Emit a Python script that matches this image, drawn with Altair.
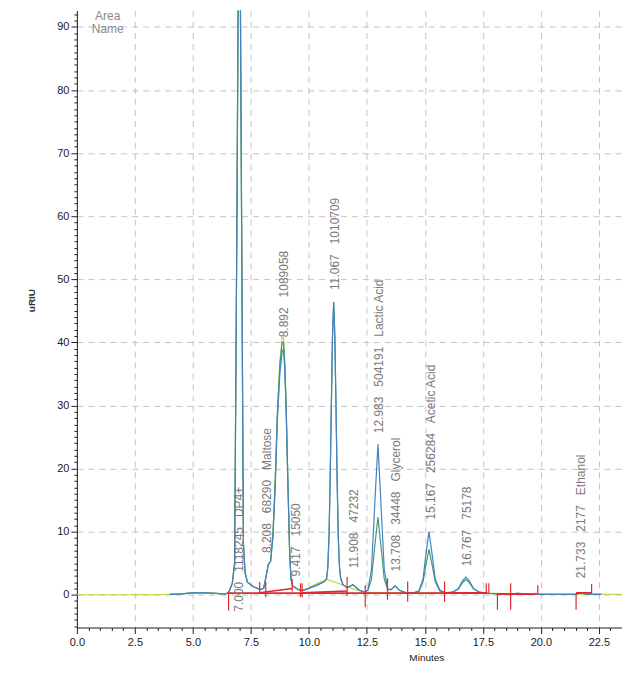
import altair as alt
import pandas as pd

# ---- chromatogram traces (minutes, uRIU) ----
t_trace = [4.0, 4.5, 5.0, 5.5, 6.0, 6.4, 6.55, 6.7, 6.8, 6.9, 6.96, 7.04, 7.1, 7.18, 7.25, 7.35,
           7.6, 7.9, 8.05, 8.15, 8.25, 8.35, 8.45, 8.55, 8.64, 8.75, 8.85, 8.91, 8.97, 9.03, 9.1,
           9.17, 9.23, 9.3, 9.42, 9.55, 9.75, 10.0, 10.4, 10.67, 10.77, 10.82, 10.87, 10.92, 10.97,
           11.02, 11.07, 11.12, 11.17, 11.22, 11.27, 11.32, 11.37, 11.47, 11.65, 11.9, 12.15, 12.4,
           12.55, 12.7, 12.85, 12.98, 13.1, 13.25, 13.4, 13.55, 13.72, 13.9, 14.2, 14.5, 14.75,
           14.92, 15.05, 15.18, 15.31, 15.45, 15.65, 15.9, 16.2, 16.45, 16.62, 16.77, 16.92, 17.1,
           17.35, 17.7, 18.5, 19.0, 19.5, 20.5, 21.5, 21.75, 22.0, 22.6]
v_blue = [0.05, 0.15, 0.3, 0.3, 0.2, 0.1, 0.4, 1.8, 5, 60, 100, 100, 60, 8, 3.5, 2,
          1.3, 0.8, 1.0, 2.8, 4.8, 5.3, 9, 17, 27.5, 35, 38.5, 39, 35, 28, 17,
          7, 2.5, 1.4, 1.1, 0.8, 0.7, 1.0, 1.6, 2.1, 2.6, 4.5, 9.5, 18.5, 30,
          41, 46.4, 41, 30, 18, 9, 4.5, 2.6, 1.6, 1.1, 1.6, 0.8, 0.4,
          0.8, 4, 15, 23.9, 15, 4, 0.9, 0.8, 1.4, 0.7, 0.3, 0.3, 0.6,
          2.5, 6.5, 10, 6.5, 2.5, 0.7, 0.3, 0.4, 1.0, 2.2, 2.8, 2.2, 1.0,
          0.4, 0.2, 0.1, 0.2, 0.1, 0.05, 0.1, 0.3, 0.1, 0.05]
v_green = [0.05, 0.15, 0.3, 0.3, 0.2, 0.1, 0.4, 1.8, 5, 60, 100, 100, 60, 8, 3.5, 2,
           1.3, 0.8, 1.0, 2.8, 4.8, 5.3, 9.5, 18, 28.5, 36.5, 40, 40, 36, 28.5, 17.5,
           7, 2.5, 1.4, 1.1, 0.8, 0.7, 1.0, 1.6, 2.1, 2.6, 4.5, 9.5, 18.5, 30,
           41, 46.4, 41, 30, 18, 9, 4.5, 2.6, 1.6, 1.1, 1.6, 0.8, 0.4,
           0.7, 2.5, 8, 12.3, 8, 2.5, 0.8, 0.8, 1.4, 0.7, 0.3, 0.3, 0.5,
           2.0, 4.8, 7.2, 4.8, 2.0, 0.6, 0.3, 0.4, 0.9, 1.9, 2.4, 1.9, 0.9,
           0.4, 0.2, 0.1, 0.2, 0.1, 0.05, 0.1, 0.3, 0.1, 0.05]
t_yellow = [0, 2, 4, 4.5, 5.0, 5.5, 6.0, 6.4, 6.55, 6.7, 6.8, 6.9, 6.96, 7.04, 7.1, 7.18, 7.25,
            7.35, 7.6, 7.9, 8.05, 8.15, 8.25, 8.35, 8.45, 8.55, 8.64, 8.75, 8.85, 8.91, 8.97,
            9.03, 9.1, 9.17, 9.23, 9.3, 9.42, 9.55, 9.75, 10.0, 10.4, 10.8, 11.2, 11.7, 12.0,
            12.4, 13.0, 14.0, 15.0, 16.0, 17.0, 18.0, 20.0, 22.0, 23.5]
v_yellow = [0, 0, 0.05, 0.15, 0.3, 0.3, 0.2, 0.1, 0.4, 1.8, 5, 60, 100, 100, 60, 8, 3.5,
            2, 1.3, 0.8, 1.0, 2.8, 4.8, 5.3, 9.5, 18, 28.5, 37, 40.8, 40.8, 36,
            28.5, 17.5, 7, 2.5, 1.4, 1.1, 0.8, 0.7, 1.1, 1.9, 2.4, 1.9, 1.2, 0.8,
            0.4, 0.3, 0.3, 0.3, 0.3, 0.3, 0.2, 0.1, 0.1, 0.05]

# ---- integration baselines and peak markers ----
seg_t1 = [6.54, 7.88, 9.71, 15.85, 18.13, 18.7, 21.52]
seg_t2 = [17.70, 9.28, 11.65, 17.65, 18.7, 19.87, 22.19]
seg_v1 = [0.25, 0.3, 0.3, 0.3, 0.1, 0.1, 0.3]
seg_v2 = [0.25, 1.0, 0.6, 0.3, 0.1, 0.1, 0.3]

tick_t = [6.54, 7.88, 8.14, 9.28, 9.64, 9.71, 11.65, 12.43, 13.39, 14.26, 15.85,
          17.65, 17.76, 18.13, 18.7, 19.87, 21.52, 22.19]
tick_top = [0.5, 2.0, 2.0, 2.5, 1.8, 1.8, 2.8, 1.5, 2.6, 2.1, 2.1,
            1.8, 1.8, 0.2, 1.8, 1.5, 0.2, 1.7]
tick_bot = [-2.5, 0.2, -0.4, 0.5, -0.4, -0.4, -0.2, -2.0, -0.8, -1.1, -1.1,
            0.2, 0.2, -2.4, -2.4, 0.2, -2.4, 0.2]

# ---- peak labels ----
label_rt = [7.000, 8.208, 8.892, 9.417, 11.067, 11.908, 12.983, 13.708, 15.167, 16.767, 21.733]
label_area = [1118245, 68290, 1089058, 15050, 1010709, 47232, 504191, 34448, 256284, 75178, 2177]
label_name = ["DP4+", "Maltose", "", "", "", "", "Lactic Acid", "Glycerol", "Acetic Acid", "", "Ethanol"]
label_x = [7.0, 8.21, 8.93, 9.43, 11.14, 11.93, 13.03, 13.75, 15.27, 16.8, 21.73]
label_y = [-2.7, 6.6, 40.8, 2.9, 48.3, 4.2, 25.6, 3.7, 11.9, 4.5, 2.6]

header_text = ["Area", "Name"]
header_x = [1.33, 1.33]
header_y = [91.8, 89.6]

x_ticks = [i * 0.5 for i in range(48)]
y_ticks = list(range(-5, 93))

gap = "\u00a0\u00a0\u00a0"
lab_df = pd.DataFrame({
    "x": label_x, "y": label_y,
    "text": [(f"{rt:.3f}{gap}{a}" + (f"{gap}{n}" if n else "")) for rt, a, n in zip(label_rt, label_area, label_name)],
})
hdr_df = pd.DataFrame({"x": header_x, "y": header_y, "text": header_text})
blue_df = pd.DataFrame({"t": t_trace, "v": v_blue})
green_df = pd.DataFrame({"t": t_trace, "v": v_green})
yellow_df = pd.DataFrame({"t": t_yellow, "v": v_yellow})
seg_df = pd.DataFrame({"t1": seg_t1, "t2": seg_t2, "v1": seg_v1, "v2": seg_v2})
tick_df = pd.DataFrame({"t": tick_t, "v1": tick_top, "v2": tick_bot})

xs = alt.Scale(domain=[0, 23.5], nice=False, zero=False)
ys = alt.Scale(domain=[-5.2, 92.6], nice=False, zero=False)

x_axis = alt.Axis(
    values=x_ticks, title="Minutes", titleFontSize=10, titleFontWeight="normal",
    titleColor="#222", titleFont="Liberation Sans", titlePadding=5, titleX=350,
    labelExpr="datum.value % 2.5 === 0 ? format(datum.value, '.1f') : ''",
    labelOverlap=False, labelFlush=False, labelFontSize=11, labelColor="#222",
    labelFont="Liberation Sans", labelPadding=3,
    tickSize={"condition": {"test": "datum.value % 2.5 === 0", "value": 6}, "value": 3},
    gridOpacity={"condition": {"test": "datum.value % 2.5 === 0", "value": 1}, "value": 0},
    grid=True, gridDash=[6, 5], gridColor="#c4c4c4", gridWidth=1,
    domainColor="#222", tickColor="#222",
)
y_axis = alt.Axis(
    values=y_ticks, title="uRIU", titleFontSize=10, titleFontWeight="bold",
    titleColor="#333", titleFont="Liberation Sans", titlePadding=20, titleY=290,
    labelExpr="datum.value % 10 === 0 && datum.value >= 0 ? format(datum.value, 'd') : ''",
    labelOverlap=False, labelFlush=False, labelFontSize=11, labelColor="#222",
    labelFont="Liberation Sans", labelPadding=2,
    tickSize={"condition": {"test": "datum.value % 10 === 0", "value": 6}, "value": 3},
    gridOpacity={"condition": {"test": "datum.value % 10 === 0", "value": 1}, "value": 0},
    grid=True, gridDash=[6, 5], gridColor="#c4c4c4", gridWidth=1,
    domainColor="#222", tickColor="#222",
)


def trace(df, color):
    return alt.Chart(df).mark_line(color=color, strokeWidth=1.2, clip=True).encode(
        x=alt.X("t:Q", scale=xs, axis=x_axis),
        y=alt.Y("v:Q", scale=ys, axis=y_axis),
        order="t:Q",
    )


yellow = trace(yellow_df, "#c6d34a")
green = trace(green_df, "#3f9a78")
blue = trace(blue_df, "#4682c0")

segs = alt.Chart(seg_df).mark_rule(color="#e0282e", strokeWidth=1.6, clip=True).encode(
    x=alt.X("t1:Q", scale=xs, axis=x_axis), x2="t2:Q",
    y=alt.Y("v1:Q", scale=ys, axis=y_axis), y2="v2:Q",
)
ticks = alt.Chart(tick_df).mark_rule(color="#e0282e", strokeWidth=1.2, clip=True).encode(
    x=alt.X("t:Q", scale=xs, axis=x_axis),
    y=alt.Y("v1:Q", scale=ys, axis=y_axis), y2="v2:Q",
)
labels = alt.Chart(lab_df).mark_text(
    angle=270, align="left", baseline="middle", fontSize=12,
    font="Liberation Sans", color="#7a7a7a",
).encode(
    x=alt.X("x:Q", scale=xs, axis=x_axis),
    y=alt.Y("y:Q", scale=ys, axis=y_axis),
    text="text:N",
)
header = alt.Chart(hdr_df).mark_text(
    align="center", baseline="middle", fontSize=12, font="Liberation Sans", color="#8a8a8a",
).encode(
    x=alt.X("x:Q", scale=xs, axis=x_axis),
    y=alt.Y("y:Q", scale=ys, axis=y_axis),
    text="text:N",
)

chart = alt.layer(yellow, green, blue, segs, ticks, labels, header).properties(
    width=546, height=618,
    autosize=alt.AutoSizeParams(type="none"),
    padding={"left": 69, "top": 2, "right": 0, "bottom": 43},
    background="white",
).configure_view(strokeWidth=0)

chart.save("out.html", embed_options={"renderer": "svg", "actions": False})
